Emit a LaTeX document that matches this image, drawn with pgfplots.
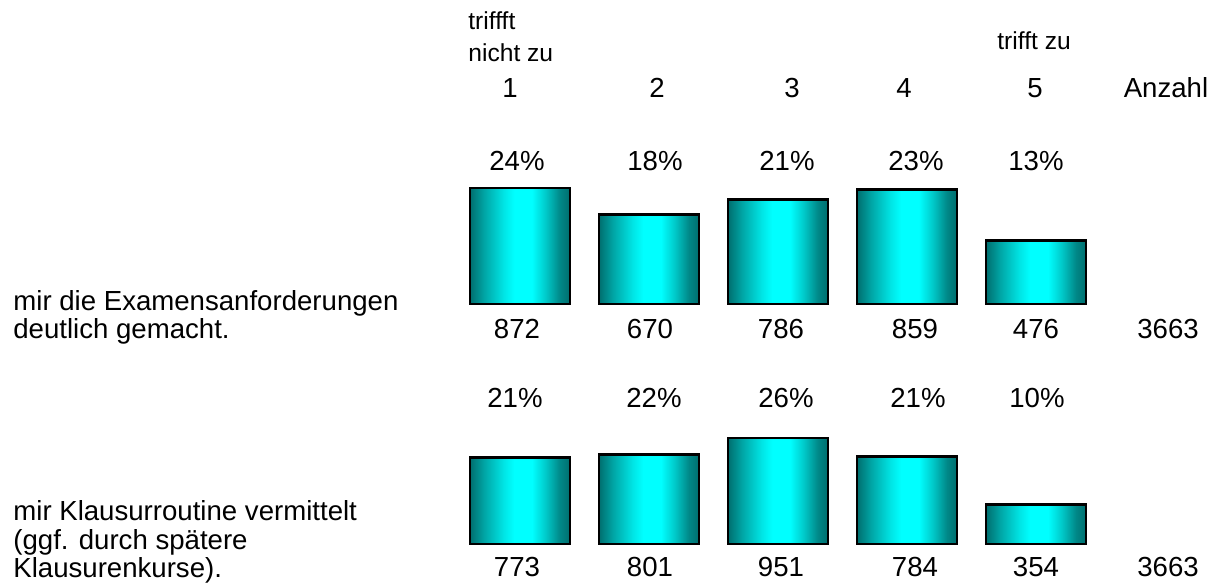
\documentclass[border=0pt]{standalone}
\usepackage{pgfplots}
\pgfplotsset{compat=1.18}
\usepackage{fontspec}
\setmainfont{Liberation Sans}
\definecolor{dk}{RGB}{0,110,110}
\definecolor{md1}{RGB}{0,165,165}
\definecolor{md2}{RGB}{0,230,230}
\definecolor{md3}{RGB}{0,200,200}
\definecolor{md4}{RGB}{0,135,135}
\pgfdeclarehorizontalshading{barshade}{100bp}{color(0bp)=(dk); color(25bp)=(dk); color(32bp)=(md1); color(42bp)=(md2); color(47bp)=(cyan); color(56bp)=(cyan); color(63bp)=(md3); color(70bp)=(md4); color(75bp)=(dk); color(100bp)=(dk)}
\pgfplotsset{shbar/.style={ybar, bar width=50pt, bar shift=0pt, draw=black, line width=1.4pt, shade, shading=barshade}}
\begin{document}
\begin{tikzpicture}
\useasboundingbox (0,0) rectangle (610.5pt,293.5pt);
% row 1 bars
\begin{axis}[at={(260pt,141.5pt)}, anchor=origin,
  x=64.5pt, y=0.0665pt, xmin=-0.5, xmax=4.5, ymin=0, ymax=1000,
  axis lines=none, clip=false, enlargelimits=false]
\addplot[shbar] coordinates {(0,872)};
\addplot[shbar] coordinates {(1,670)};
\addplot[shbar] coordinates {(2,786)};
\addplot[shbar] coordinates {(3,859)};
\addplot[shbar] coordinates {(4,476)};
\end{axis}
% row 2 bars
\begin{axis}[at={(260pt,21.5pt)}, anchor=origin,
  x=64.5pt, y=0.05575pt, xmin=-0.5, xmax=4.5, ymin=0, ymax=1000,
  axis lines=none, clip=false, enlargelimits=false]
\addplot[shbar] coordinates {(0,773)};
\addplot[shbar] coordinates {(1,801)};
\addplot[shbar] coordinates {(2,951)};
\addplot[shbar] coordinates {(3,784)};
\addplot[shbar] coordinates {(4,354)};
\end{axis}
\begin{scope}[x=0.5pt, y=-0.5pt, yshift=293.5pt,
  every node/.style={inner sep=0pt, font=\fontsize{13.8pt}{14pt}\selectfont}]
% header
\node[anchor=base west, font=\fontsize{12.3pt}{15pt}\selectfont] at (468,30) {triffft};
\node[anchor=base west, font=\fontsize{12.3pt}{15pt}\selectfont] at (468,62) {nicht zu};
\node[anchor=base west, font=\fontsize{12.3pt}{15pt}\selectfont] at (997,50) {trifft zu};
\node[anchor=base] at (510,98) {1};
\node[anchor=base] at (657,98) {2};
\node[anchor=base] at (792,98) {3};
\node[anchor=base] at (904,98) {4};
\node[anchor=base] at (1035,98) {5};
\node[anchor=base] at (1166,98) {Anzahl};
% row 1 percentages
\node[anchor=base] at (517,171) {24\%};
\node[anchor=base] at (655,171) {18\%};
\node[anchor=base] at (787,171) {21\%};
\node[anchor=base] at (916,171) {23\%};
\node[anchor=base] at (1036,171) {13\%};
% row 1 counts
\node[anchor=base] at (517,339) {872};
\node[anchor=base] at (650,339) {670};
\node[anchor=base] at (781,339) {786};
\node[anchor=base] at (915,339) {859};
\node[anchor=base] at (1036,339) {476};
\node[anchor=base] at (1168,339) {3663};
% row 1 label
\node[anchor=base west] at (13,311) {mir die Examensanforderungen};
\node[anchor=base west] at (13,339) {deutlich gemacht.};
% row 2 percentages
\node[anchor=base] at (515,408) {21\%};
\node[anchor=base] at (654,408) {22\%};
\node[anchor=base] at (786,408) {26\%};
\node[anchor=base] at (918,408) {21\%};
\node[anchor=base] at (1037,408) {10\%};
% row 2 counts
\node[anchor=base] at (517,577) {773};
\node[anchor=base] at (650,577) {801};
\node[anchor=base] at (781,577) {951};
\node[anchor=base] at (915,577) {784};
\node[anchor=base] at (1036,577) {354};
\node[anchor=base] at (1168,577) {3663};
% row 2 label
\node[anchor=base west] at (13,521) {mir Klausurroutine vermittelt};
\node[anchor=base west] at (13,550) {(ggf. durch spätere};
\node[anchor=base west] at (13,578) {Klausurenkurse).};
\end{scope}
\end{tikzpicture}
\end{document}
